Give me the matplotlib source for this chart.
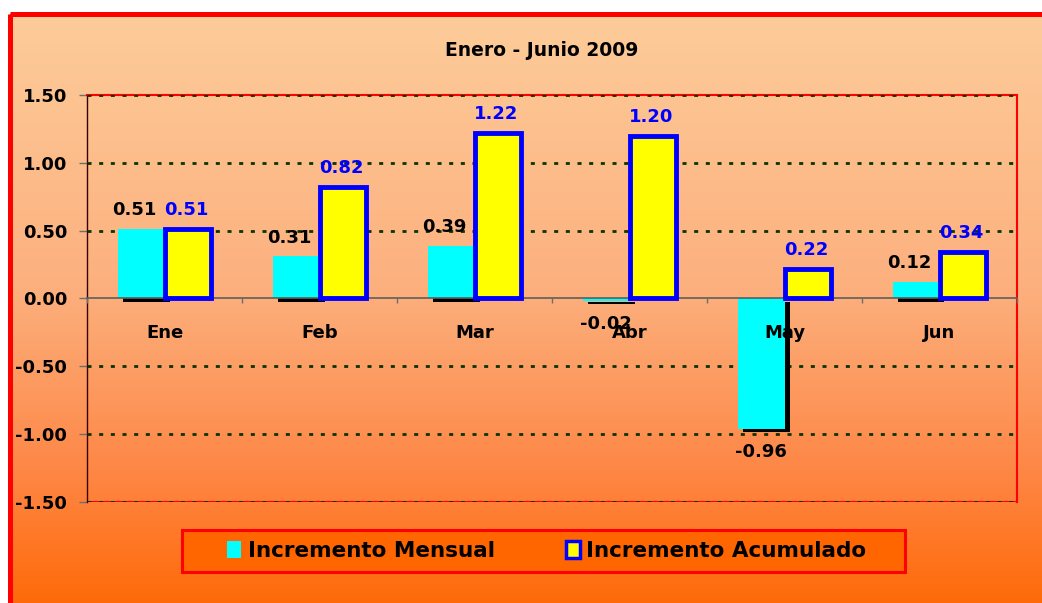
import numpy as np
import matplotlib
matplotlib.use('Agg')
import matplotlib.pyplot as plt
from matplotlib.patches import Rectangle, Patch
from matplotlib import patheffects as pe
from matplotlib.colors import LinearSegmentedColormap

# ---- data ----
categories = ['Ene', 'Feb', 'Mar', 'Abr', 'May', 'Jun']
mensual = [0.51, 0.31, 0.39, -0.02, -0.96, 0.12]
acumulado = [0.51, 0.82, 1.22, 1.20, 0.22, 0.34]
yticks = [1.50, 1.00, 0.50, 0.00, -0.50, -1.00, -1.50]
title = 'Enero - Junio 2009'
legend_labels = ['Incremento Mensual', 'Incremento Acumulado']

plt.rcParams['font.family'] = ['DejaVu Sans']
plt.rcParams['font.weight'] = 'bold'

W, H = 1042, 603
DPI = 100
fig = plt.figure(figsize=(W / DPI, H / DPI), dpi=DPI, facecolor='white')

# ---- gradient background with red border ----
bg = fig.add_axes([0, 0, 1, 1], zorder=-10)
bg.set_xlim(0, W)
bg.set_ylim(H, 0)
bg.axis('off')
cmap = LinearSegmentedColormap.from_list(
    'g', [(0.0, '#FDCC9A'), (0.45, '#FCB07E'), (0.75, '#FE8746'), (1.0, '#FF6600')])
grad = np.linspace(0, 1, 256).reshape(-1, 1)
bg.imshow(grad, cmap=cmap, aspect='auto', extent=[10, W + 20, H + 20, 14],
          interpolation='bilinear')
bg.add_patch(Rectangle((10, 14), W + 20, H + 20, fill=False,
                       edgecolor='#FF0000', lw=3.6))

# ---- main axes ----
ax = fig.add_axes([87 / W, 1 - 502 / H, (1017 - 87) / W, (502 - 95) / H])
ax.set_facecolor('none')
x = np.arange(len(categories))
w = 0.3

b1 = ax.bar(x - w / 2, mensual, w, color='#00FFFF', zorder=3)
for p in b1:
    p.set_path_effects([pe.SimplePatchShadow(offset=(3.6, -2.2), shadow_rgbFace='black', alpha=1.0),
                        pe.Normal()])
b2 = ax.bar(x + w / 2, acumulado, w, color='#FFFF00', edgecolor='#0000FF',
            linewidth=3.5, zorder=4)

ax.set_xlim(-0.5, len(categories) - 0.5)
ax.set_ylim(min(yticks), max(yticks))

# grid lines (dotted)
for yv in yticks:
    if yv != 0:
        ax.axhline(yv, color='#0A3300', lw=2.0, linestyle=(0, (1.45, 2.75)), zorder=2.6)

# spines
ax.spines['top'].set_color('#FF0000')
ax.spines['top'].set_linewidth(1.5)
ax.spines['right'].set_color('#FF0000')
ax.spines['right'].set_linewidth(1.5)
ax.spines['left'].set_color('#3A0000')
ax.spines['left'].set_linewidth(1.0)
ax.spines['bottom'].set_position(('data', 0))
ax.spines['bottom'].set_color('#5E5E5E')
ax.spines['bottom'].set_linewidth(1.2)
ax.spines['bottom'].set_zorder(3.5)
ax.axhline(min(yticks), color='#FF0000', lw=1.5, zorder=2.5)

# ticks
ax.set_yticks(yticks)
ax.set_yticklabels([f'{v:.2f}' for v in yticks])
ax.tick_params(axis='y', direction='out', length=5.8, width=1, color='#6E6E6E',
               labelsize=13, pad=8.6)
ax.set_xticks(x)
ax.set_xticklabels(categories)
ax.tick_params(axis='x', which='major', length=0, labelsize=13, pad=18.5)
ax.set_xticks(np.arange(-0.5, len(categories), 1), minor=True)
ax.tick_params(axis='x', which='minor', length=3.6, width=1, color='#6E6E6E', direction='out')
ax.xaxis.set_zorder(5)

# data labels
for xi, v in zip(x, mensual):
    if v >= 0:
        ax.annotate(f'{v:.2f}', xy=(xi - w / 2, v), xytext=(-5, 10), textcoords='offset points',
                    ha='center', va='baseline', fontsize=13, fontweight='bold', color='black', zorder=6)
    else:
        ax.annotate(f'{v:.2f}', xy=(xi - w / 2, v), xytext=(0, -10), textcoords='offset points',
                    ha='center', va='top', fontsize=13, fontweight='bold', color='black', zorder=6)
for xi, v in zip(x, acumulado):
    ax.annotate(f'{v:.2f}', xy=(xi + w / 2, v), xytext=(-1, 10), textcoords='offset points',
                ha='center', va='baseline', fontsize=13, fontweight='bold', color='#0000FF', zorder=6)

# title
fig.text(541.5 / W, 1 - 50 / H, title, ha='center', va='center', fontsize=13.5, fontweight='bold')

# legend
fig.add_artist(Rectangle((182 / W, 1 - 572 / H), (905 - 182) / W, 42 / H,
                         transform=fig.transFigure, facecolor='#FF6600',
                         edgecolor='#FF0000', lw=2.2, zorder=4))
handles = [Patch(facecolor='#00FFFF', edgecolor='none'),
           Patch(facecolor='#FFFF00', edgecolor='#0000FF', linewidth=2.5)]
leg = fig.legend(handles, legend_labels, loc='center', bbox_to_anchor=(547 / W, 1 - 551 / H),
                 ncol=2, frameon=False, fontsize=15.5, handlelength=0.65, handleheight=0.8,
                 handletextpad=0.3, columnspacing=3.3)
leg.set_zorder(5)

fig.savefig('out.png', dpi=DPI)
